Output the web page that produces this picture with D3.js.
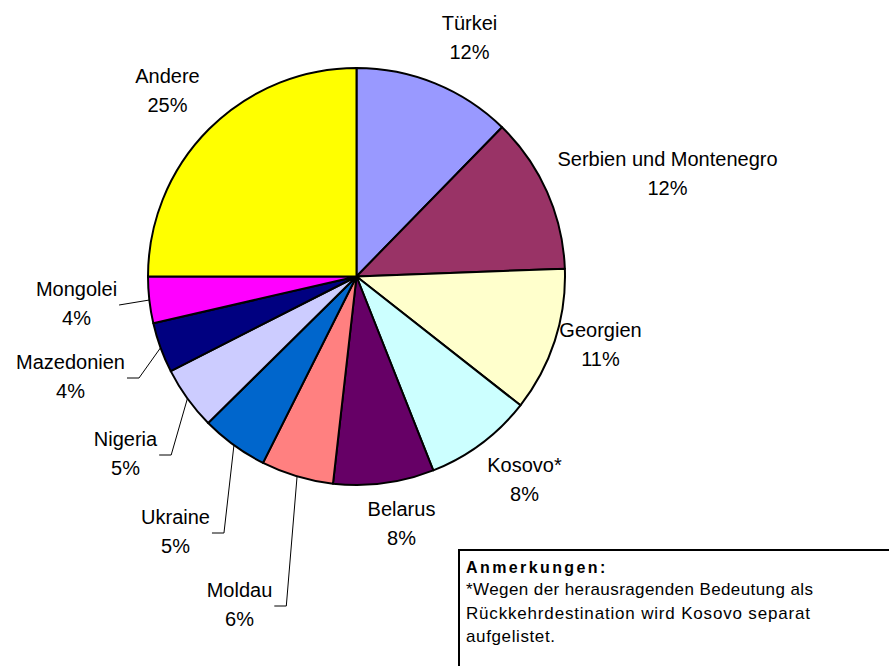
<!DOCTYPE html>
<html>
<head>
<meta charset="utf-8">
<script src="https://cdn.jsdelivr.net/npm/d3@7"></script>
<style>
  body { margin: 0; background: #fff; }
  svg { display: block; font-family: "Liberation Sans", Arial, sans-serif; }
</style>
</head>
<body>
<svg id="chart" width="889" height="666"></svg>
<script>
// Daten (Anteile in %)
const countries = ["Türkei", "Serbien und Montenegro", "Georgien", "Kosovo*", "Belarus",
                   "Moldau", "Ukraine", "Nigeria", "Mazedonien", "Mongolei", "Andere"];
const shares = [12.3, 12.1, 11.2, 8.4, 7.8, 5.6, 5.2, 4.9, 3.9, 3.6, 25.0];
const colors = ["#9999ff", "#993366", "#ffffcc", "#ccffff", "#660066",
                "#ff8080", "#0066cc", "#ccccff", "#000080", "#ff00ff", "#ffff00"];

// Beschriftungen: Verschiebung vom Kreismittelpunkt, mit/ohne Führungslinie
const labelOffset = [[113, -254], [311, -118], [244, 53], [168, 188], [45, 232],
                     [-117, 313], [-181, 240], [-231, 162], [-286, 85], [-280, 12], [-189, -201]];
const withLeader = [false, false, false, false, false, true, true, true, true, true, false];

const noteTitle = "Anmerkungen:";
const noteLines = ["*Wegen der herausragenden Bedeutung als",
                   "Rückkehrdestination wird Kosovo separat",
                   "aufgelistet."];
const noteWidths = [347, 344, 89];

const svg = d3.select("#chart");
const cx = 356.5, cy = 276.5, radius = 208.5;

const data = countries.map((c, i) => ({ name: c, value: shares[i], color: colors[i], i: i }));

const pie = d3.pie().sort(null).value(d => d.value);
const arc = d3.arc().innerRadius(0).outerRadius(radius);
const arcs = pie(data);

const g = svg.append("g").attr("transform", `translate(${cx},${cy})`);

// Tortenstücke
g.selectAll("path.slice")
  .data(arcs)
  .join("path")
  .attr("class", "slice")
  .attr("d", arc)
  .attr("fill", d => d.data.color)
  .attr("stroke", "#000")
  .attr("stroke-width", 2)
  .attr("stroke-linejoin", "round");

// Beschriftungen
const fontSize = 20, lineGap = 29;
arcs.forEach((a, i) => {
  const [dx, dy] = labelOffset[i];
  const lbl = g.append("g");
  const t1 = lbl.append("text")
    .attr("x", dx).attr("y", dy + 7)
    .attr("text-anchor", "middle")
    .style("font-size", fontSize + "px")
    .attr("fill", "#000")
    .text(a.data.name);
  const t2 = lbl.append("text")
    .attr("x", dx).attr("y", dy + 7 + lineGap)
    .attr("text-anchor", "middle")
    .style("font-size", fontSize + "px")
    .attr("fill", "#000")
    .text(Math.round(a.data.value) + "%");

  if (withLeader[i]) {
    const w = Math.max(t1.node().getComputedTextLength(), t2.node().getComputedTextLength());
    const right = dx + w / 2 + 2;
    const midY = dy + lineGap / 2 + 2;
    const mid = (a.startAngle + a.endAngle) / 2;
    const edge = [Math.sin(mid) * radius, -Math.cos(mid) * radius];
    // Mongolei liegt fast waagrecht -> direkte Linie
    const pts = i === 9 ? [edge, [right, midY]] : [edge, [right + 12, midY], [right, midY]];
    g.insert("polyline", "path.slice")
      .attr("points", pts.map(p => p.join(",")).join(" "))
      .attr("fill", "none")
      .attr("stroke", "#000")
      .attr("stroke-width", 1);
  }
});

// Anmerkungen-Kasten
const note = svg.append("g").attr("transform", "translate(459,550)");
note.append("rect")
  .attr("x", 0).attr("y", 0)
  .attr("width", 440).attr("height", 200)
  .attr("fill", "#fff")
  .attr("stroke", "#000")
  .attr("stroke-width", 2);
note.append("text")
  .attr("x", 7).attr("y", 22.5)
  .style("font-size", "16px")
  .style("font-weight", "bold")
  .style("letter-spacing", "2.4px")
  .text(noteTitle);
note.selectAll("text.line")
  .data(noteLines)
  .join("text")
  .attr("class", "line")
  .attr("x", 7)
  .attr("y", (d, i) => 45 + i * 23.5)
  .style("font-size", "17px")
  .attr("textLength", (d, i) => noteWidths[i])
  .attr("lengthAdjust", "spacing")
  .text(d => d);
</script>
</body>
</html>
